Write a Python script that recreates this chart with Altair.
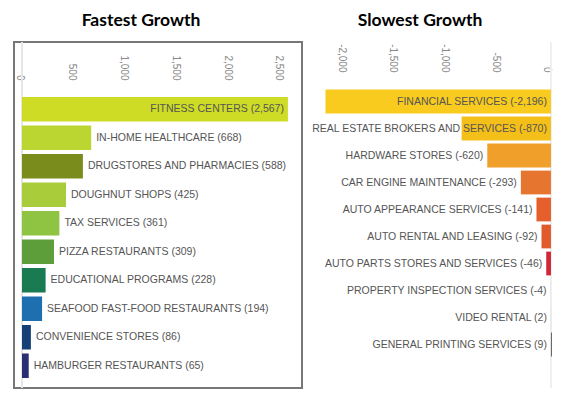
import altair as alt
import pandas as pd

fast_names = ["FITNESS CENTERS", "IN-HOME HEALTHCARE", "DRUGSTORES AND PHARMACIES",
              "DOUGHNUT SHOPS", "TAX SERVICES", "PIZZA RESTAURANTS", "EDUCATIONAL PROGRAMS",
              "SEAFOOD FAST-FOOD RESTAURANTS", "CONVENIENCE STORES", "HAMBURGER RESTAURANTS"]
fast_values = [2567, 668, 588, 425, 361, 309, 228, 194, 86, 65]
fast_colors = ["#CEDC26", "#BBD630", "#7A8C1C", "#A9CC3A", "#8FC442", "#5E9E3A",
               "#1A7A52", "#1E6FAF", "#173F77", "#2A2F73"]
fast_ticks = [0, 500, 1000, 1500, 2000, 2500]

slow_names = ["FINANCIAL SERVICES", "REAL ESTATE BROKERS AND SERVICES", "HARDWARE STORES",
              "CAR ENGINE MAINTENANCE", "AUTO APPEARANCE SERVICES", "AUTO RENTAL AND LEASING",
              "AUTO PARTS STORES AND SERVICES", "PROPERTY INSPECTION SERVICES", "VIDEO RENTAL",
              "GENERAL PRINTING SERVICES"]
slow_values = [-2196, -870, -620, -293, -141, -92, -46, -4, 2, 9]
slow_colors = ["#F8CB1E", "#F5BF1A", "#EF9F2A", "#E67530", "#E45F2C", "#E05A2B",
               "#D12638", "#E6E6E6", "#D9C9C9", "#555555"]
slow_ticks = [-2000, -1500, -1000, -500, 0]

LABEL_FONT = "Liberation Sans"
LABEL_SIZE = 10.5
LABEL_COLOR = "#555555"

fast_df = pd.DataFrame({"name": fast_names, "value": fast_values, "color": fast_colors})
fast_df["label"] = [f"{n} ({v:,})" for n, v in zip(fast_names, fast_values)]

slow_df = pd.DataFrame({"name": slow_names, "value": slow_values, "color": slow_colors})
slow_df["label"] = [f"{n} ({v:,})" for n, v in zip(slow_names, slow_values)]

label_expr = "replace(format(datum.value, ','), '\u2212', '-')"

def xaxis(ticks, offset, loff):
    return alt.Axis(orient="top", values=ticks, labelAngle=90, labelAlign="right",
                    labelBaseline="middle", offset=offset, domain=False, ticks=False,
                    tickSize=0, grid=False, labelPadding=2, labelColor="#888888",
                    labelFont="Liberation Sans", labelFontSize=10, labelExpr=label_expr,
                    labelOffset=loff, title=None)

# ---------- Fastest ----------
fy = alt.Y("name:N", sort=fast_names, axis=None,
           scale=alt.Scale(range=[53, 338], paddingInner=0.14, paddingOuter=0.07))
fx = alt.X("value:Q", scale=alt.Scale(domain=[-77, 2703], nice=False, zero=False),
           axis=xaxis(fast_ticks, -40, -2))

fbase = alt.Chart(fast_df)
f_rule = fbase.mark_rule(color="#e6e6e6", strokeWidth=1).encode(x=alt.datum(0))
f_bars = fbase.mark_bar().encode(y=fy, x=fx, x2=alt.datum(0),
                                 color=alt.Color("color:N", scale=None))
f_in = fbase.transform_filter("datum.value > 1000").mark_text(
    align="right", dx=-4, font=LABEL_FONT, fontSize=LABEL_SIZE, color=LABEL_COLOR
).encode(y=fy, x=fx, text="label:N")
f_out = fbase.transform_filter("datum.value <= 1000").mark_text(
    align="left", dx=5, font=LABEL_FONT, fontSize=LABEL_SIZE, color=LABEL_COLOR
).encode(y=fy, x=fx, text="label:N")

left = alt.layer(f_rule, f_bars, f_in, f_out).properties(
    width=288, height=346,
    title=alt.TitleParams("Fastest Growth", font="Lato", fontSize=17.5, fontWeight="bold",
                          color="#000000", anchor="middle", dx=-17, offset=-2,
                          baseline="alphabetic"),
    view=alt.ViewBackground(stroke="#777777", strokeWidth=2),
)

# ---------- Slowest ----------
sy = alt.Y("name:N", sort=slow_names, axis=None,
           scale=alt.Scale(range=[46, 316], paddingInner=0.12, paddingOuter=0.06))
sx = alt.X("value:Q", scale=alt.Scale(domain=[-2415, 20], nice=False, zero=False),
           axis=xaxis(slow_ticks, -32, -4))

sbase = alt.Chart(slow_df).transform_calculate(
    anchor="datum.value < -800 ? 0 : min(datum.value, 0)"
)
s_rule = sbase.mark_rule(color="#eeeeee", strokeWidth=1).encode(x=alt.datum(0))
s_bars = sbase.mark_bar().encode(y=sy, x=sx, x2=alt.datum(0),
                                 color=alt.Color("color:N", scale=None))
s_text = sbase.mark_text(
    align="right", dx=-4, font=LABEL_FONT, fontSize=LABEL_SIZE, color=LABEL_COLOR
).encode(y=sy, x=alt.X("anchor:Q", scale=alt.Scale(domain=[-2415, 20], nice=False, zero=False)),
         text="label:N")

right = alt.layer(s_rule, s_bars, s_text).properties(
    width=250, height=346,
    title=alt.TitleParams("Slowest Growth", font="Lato", fontSize=17.5, fontWeight="bold",
                          color="#000000", anchor="middle", dx=-8, offset=-2,
                          baseline="alphabetic"),
    view=alt.ViewBackground(strokeOpacity=0),
)

chart = alt.hconcat(left, right, spacing=0).properties(
    padding={"left": 5, "top": 3, "right": 0, "bottom": 0}
).configure(background="white")

chart.save("out.html", embed_options={"renderer": "svg", "actions": False})
